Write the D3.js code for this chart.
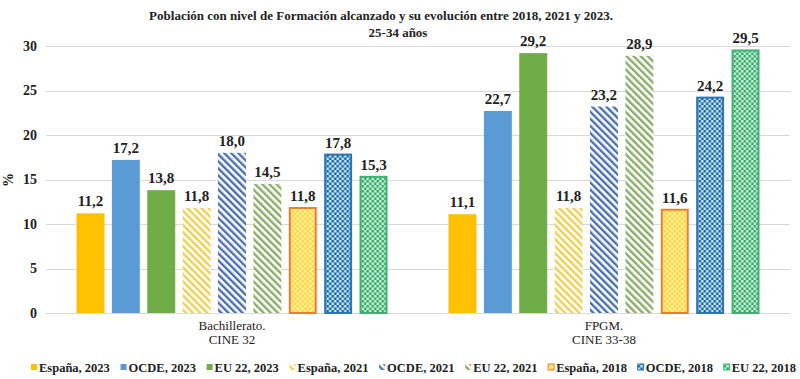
<!DOCTYPE html>
<html><head><meta charset="utf-8">
<script src="https://cdn.jsdelivr.net/npm/d3@7"></script>
<style>body{margin:0;background:#fff}svg{display:block}
svg text{font-family:"Liberation Serif","Times New Roman","DejaVu Serif","Noto Serif",Times,serif}</style>
</head><body>
<svg id="chart" width="800" height="379"></svg>
<script>
const categories = [["Bachillerato.", "CINE 32"], ["FPGM.", "CINE 33-38"]];
const seriesNames = ["España, 2023", "OCDE, 2023", "EU 22, 2023", "España, 2021", "OCDE, 2021", "EU 22, 2021", "España, 2018", "OCDE, 2018", "EU 22, 2018"];
const bachillerato = [11.2, 17.2, 13.8, 11.8, 18.0, 14.5, 11.8, 17.8, 15.3];
const fpgm = [11.1, 22.7, 29.2, 11.8, 23.2, 28.9, 11.6, 24.2, 29.5];
const yTicks = [0, 5, 10, 15, 20, 25, 30];

const values = [bachillerato, fpgm];

const styles = [
  {type:"solid", color:"#FFC000"},
  {type:"solid", color:"#5B9BD5"},
  {type:"solid", color:"#70AD47"},
  {type:"stripe", fg:"#F0CF50", bg:"#FFFFFF"},
  {type:"stripe", fg:"#4A6FB0", bg:"#FFFFFF"},
  {type:"stripe", fg:"#8AAB68", bg:"#FFFFFF"},
  {type:"check", fg:"#FFD43A", bg:"#FFF3A8", stroke:"#ED7D31"},
  {type:"check", fg:"#1F5E9E", bg:"#C4F0FF", stroke:"#2E75B6"},
  {type:"check", fg:"#2EA860", bg:"#D2F6E2", stroke:"#3CB371"}
];

const svg = d3.select("#chart");
const defs = svg.append("defs");
styles.forEach((s, i) => {
  if (s.type === "stripe") {
    const p = defs.append("pattern").attr("id", "pat" + i).attr("patternUnits", "userSpaceOnUse")
      .attr("width", 5).attr("height", 5).attr("patternTransform", "rotate(-45)");
    p.append("rect").attr("width", 5).attr("height", 5).attr("fill", s.bg);
    p.append("rect").attr("width", 2.4).attr("height", 5).attr("fill", s.fg);
  } else if (s.type === "check") {
    const p = defs.append("pattern").attr("id", "pat" + i).attr("patternUnits", "userSpaceOnUse")
      .attr("width", 5).attr("height", 5);
    p.append("rect").attr("width", 5).attr("height", 5).attr("fill", s.bg);
    p.append("rect").attr("width", 2.5).attr("height", 2.5).attr("fill", s.fg);
    p.append("rect").attr("x", 2.5).attr("y", 2.5).attr("width", 2.5).attr("height", 2.5).attr("fill", s.fg);
  }
});
const fillOf = (i) => styles[i].type === "solid" ? styles[i].color : `url(#pat${i})`;

const x0 = d3.scaleBand().domain(d3.range(categories.length)).range([46, 790])
  .paddingInner(0.164).paddingOuter(0.082);
const x1 = d3.scaleBand().domain(d3.range(seriesNames.length)).range([0, x0.bandwidth()])
  .paddingInner(0.21).paddingOuter(0);
const y = d3.scaleLinear().domain([0, 30]).range([313, 46]);

svg.append("g").selectAll("line").data(yTicks).join("line")
  .attr("x1", 46).attr("x2", 790)
  .attr("y1", d => Math.round(y(d)) + 0.5).attr("y2", d => Math.round(y(d)) + 0.5)
  .attr("stroke", "#d9d9d9").attr("stroke-width", 1);

const yAxis = svg.append("g").attr("transform", "translate(46,0)")
  .call(d3.axisLeft(y).tickValues(yTicks).tickSize(0).tickPadding(9).tickFormat(d3.format("d")));
yAxis.select(".domain").remove();
yAxis.selectAll("text").attr("font-family", null).attr("font-weight", "bold")
  .attr("font-size", 14).attr("fill", "#222");

svg.append("text").attr("transform", "translate(13,180) rotate(-90)")
  .attr("text-anchor", "middle").attr("font-weight", "bold")
  .attr("font-size", 14).attr("fill", "#222").text("%");

const groups = svg.append("g").selectAll("g").data(values).join("g")
  .attr("transform", (d, i) => `translate(${x0(i)},0)`);
groups.selectAll("rect").data(d => d).join("rect")
  .attr("x", (d, j) => x1(j) + (styles[j].stroke ? 1 : 0))
  .attr("y", d => y(d) + 0)
  .attr("width", (d, j) => x1.bandwidth() - (styles[j].stroke ? 2 : 0))
  .attr("height", d => y(0) - y(d))
  .attr("fill", (d, j) => fillOf(j))
  .attr("stroke", (d, j) => styles[j].stroke || "none")
  .attr("stroke-width", 2);
groups.selectAll("text").data(d => d).join("text")
  .attr("x", (d, j) => x1(j) + x1.bandwidth() / 2)
  .attr("y", d => y(d) - 7)
  .attr("text-anchor", "middle").attr("font-weight", "bold")
  .attr("font-size", 15).attr("fill", "#222")
  .text(d => d.toFixed(1).replace(".", ","));

categories.forEach((c, i) => {
  const t = svg.append("text").attr("text-anchor", "middle")
    .attr("font-size", 13).attr("fill", "#222");
  c.forEach((line, k) => t.append("tspan").attr("x", x0(i) + x0.bandwidth() / 2)
    .attr("y", 330 + k * 14).text(line));
});

svg.append("text").attr("x", 381).attr("y", 20).attr("text-anchor", "middle")
  .attr("font-weight", "bold").attr("font-size", 13).attr("fill", "#222")
  .text("Población con nivel de Formación alcanzado y su evolución entre 2018, 2021 y 2023.");
svg.append("text").attr("x", 398).attr("y", 37).attr("text-anchor", "middle")
  .attr("font-weight", "bold").attr("font-size", 13).attr("fill", "#222")
  .text("25-34 años");

// legend: measure, then spread items between x=31 and x=796
const legend = svg.append("g");
const items = seriesNames.map((name, i) => {
  const g = legend.append("g");
  const s = styles[i];
  g.append("rect").attr("x", 0).attr("y", 364).attr("width", 6).attr("height", 6)
    .attr("fill", fillOf(i)).attr("stroke", s.stroke || "none").attr("stroke-width", 1);
  const t = g.append("text").attr("x", 8).attr("y", 372)
    .attr("font-weight", "bold").attr("font-size", 12.5).attr("fill", "#222").text(name);
  return {g, t, w: 8 + t.node().getComputedTextLength()};
});
let total = d3.sum(items, d => d.w);
let fs = 12.5;
if (total > 765 - 8 * 8) {
  fs = 12.5 * (765 - 8 * 8) / total;
  items.forEach(d => { d.t.attr("font-size", fs); d.w = 8 + d.t.node().getComputedTextLength(); });
  total = d3.sum(items, d => d.w);
}
const gap = Math.min(16, (765 - total) / 8);
let lx = 31;
items.forEach(d => { d.g.attr("transform", `translate(${lx},0)`); lx += d.w + gap; });
</script>
</body></html>
